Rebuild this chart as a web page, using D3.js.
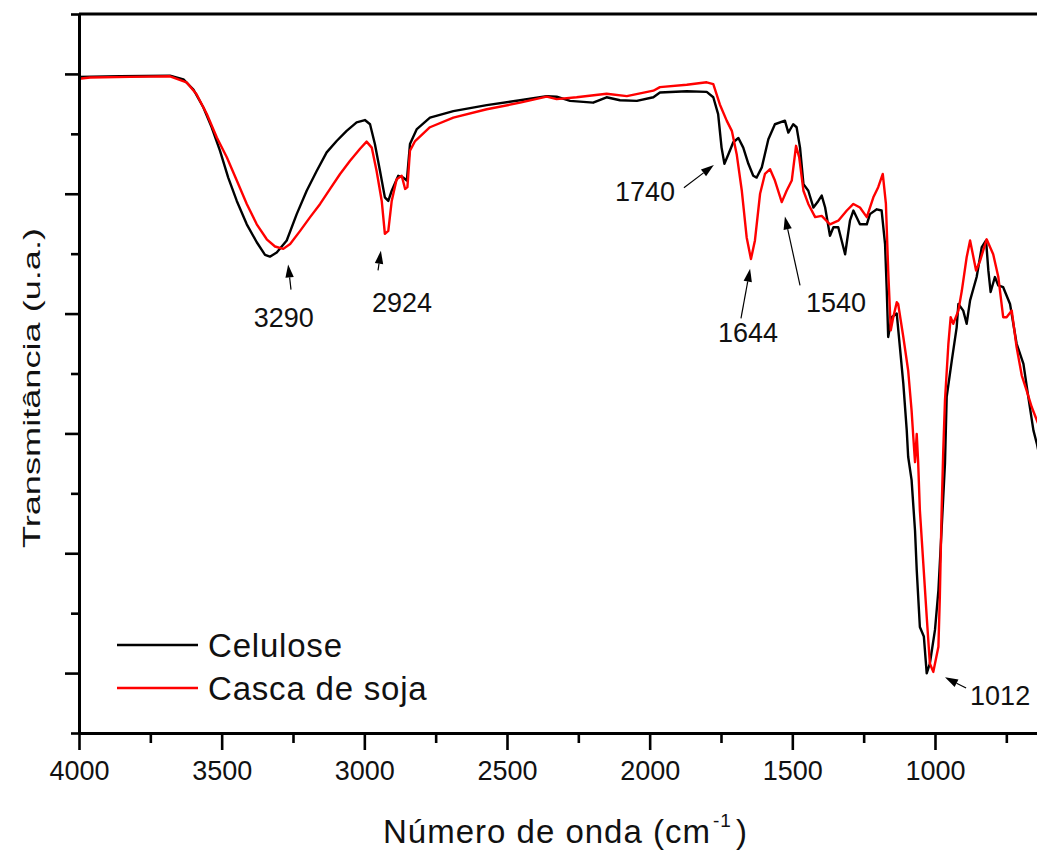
<!DOCTYPE html>
<html>
<head>
<meta charset="utf-8">
<script src="https://cdn.jsdelivr.net/npm/d3@7"></script>
<style>
  html, body { margin: 0; padding: 0; background: #fff; }
  svg { display: block; font-family: "Liberation Sans", Arial, sans-serif; }
</style>
</head>
<body>
<svg id="chart" width="1037" height="850"></svg>
<script>
// FTIR spectra: [wavenumber (cm-1), transmittance (a.u.)]
const celulose = [
  [4000,109.5],[3856,109.6],[3681,109.7],[3634,109.1],[3599,107.4],[3564,104.4],[3535,101.1],
  [3506,97.2],[3477,92.7],[3447,88.8],[3412,84.9],[3377,81.9],[3348,79.8],[3331,79.5],[3307,80.2],
  [3272,82.2],[3237,86.6],[3202,90.5],[3167,93.8],[3132,96.9],[3097,98.8],[3062,100.5],[3027,101.9],
  [2998,102.3],[2980,101.6],[2963,98.3],[2945,93.8],[2928,89.4],[2916,88.8],[2904,90.5],[2881,93.0],
  [2863,92.7],[2851,92.2],[2840,98.3],[2816,100.8],[2770,102.7],[2688,103.8],[2571,104.8],[2454,105.6],
  [2361,106.3],[2326,106.2],[2279,105.5],[2198,105.2],[2151,106.1],[2104,105.6],[2045,105.5],[1987,106.1],
  [1964,106.9],[1870,107.1],[1800,107.0],[1777,106.1],[1760,103.3],[1748,97.7],[1738,95.0],[1724,96.6],
  [1707,98.6],[1689,99.3],[1672,97.7],[1654,95.0],[1637,93.0],[1625,92.7],[1607,94.4],[1584,99.1],
  [1561,101.6],[1526,102.2],[1514,100.2],[1497,101.6],[1485,101.1],[1473,97.7],[1461,91.6],[1444,90.5],
  [1426,87.7],[1409,88.8],[1397,89.7],[1385,87.7],[1368,83.0],[1356,84.4],[1339,84.4],[1315,79.9],
  [1298,85.5],[1286,87.2],[1263,84.9],[1239,84.9],[1228,86.6],[1204,87.4],[1187,87.2],[1175,81.6],
  [1169,73.8],[1164,66.1],[1152,69.4],[1134,70.0],[1123,64.4],[1111,58.3],[1099,50.5],[1094,46.1],
  [1082,42.2],[1070,33.8],[1064,27.2],[1053,17.7],[1039,16.1],[1029,9.95],[1018,11.6],[1000,17.2],
  [988,23.8],[977,33.8],[965,45.0],[959,56.1],[941,62.2],[924,67.7],[918,71.6],[901,70.5],[889,68.3],
  [877,72.2],[854,76.1],[836,81.1],[821,82.2],[813,77.2],[805,73.6],[790,76.1],[778,74.7],[761,74.4],
  [737,71.6],[714,65.0],[690,61.6],[673,56.1],[655,50.5],[643,48.3],[632,45.8]
];

const cascaDeSoja = [
  [4000,109.2],[3961,109.4],[3821,109.5],[3681,109.6],[3623,108.6],[3588,106.6],[3552,103.3],
  [3517,99.4],[3482,96.1],[3447,92.2],[3412,88.3],[3377,84.9],[3342,82.4],[3313,81.2],[3284,80.8],
  [3260,81.6],[3225,83.8],[3190,86.1],[3155,88.3],[3120,90.8],[3085,93.3],[3050,95.5],[3015,97.5],
  [2992,98.7],[2974,97.7],[2957,93.8],[2939,88.8],[2928,83.3],[2916,83.8],[2904,88.8],[2887,92.4],
  [2869,93.0],[2857,90.8],[2849,91.1],[2840,97.2],[2822,98.8],[2770,101.1],[2688,102.7],[2571,104.1],
  [2454,105.2],[2361,106.2],[2326,105.8],[2256,106.1],[2151,106.7],[2080,106.3],[1987,107.2],
  [1964,107.8],[1870,108.2],[1800,108.6],[1777,108.3],[1754,104.9],[1730,102.2],[1712,100.5],
  [1695,96.6],[1677,90.5],[1660,82.7],[1645,79.1],[1631,82.2],[1613,90.0],[1596,93.3],[1578,94.1],
  [1561,92.2],[1537,88.6],[1520,90.5],[1502,92.2],[1487,98.0],[1476,96.1],[1461,90.5],[1444,88.3],
  [1420,86.1],[1397,86.3],[1368,84.9],[1339,85.5],[1309,87.2],[1286,88.3],[1263,87.7],[1239,86.1],
  [1216,89.4],[1199,91.1],[1183,93.3],[1172,88.3],[1164,77.2],[1155,67.2],[1147,69.2],[1134,71.9],
  [1129,71.6],[1111,66.1],[1094,60.5],[1082,53.8],[1076,49.4],[1070,45.2],[1064,49.9],[1059,45.2],
  [1053,37.2],[1041,28.3],[1029,19.4],[1018,11.6],[1006,10.2],[988,14.4],[983,22.7],[977,36.6],
  [971,47.2],[965,55.5],[953,65.0],[945,69.4],[936,68.3],[918,70.5],[906,73.8],[889,79.4],[877,82.2],
  [856,77.2],[842,78.8],[819,82.4],[796,79.9],[778,76.1],[761,69.4],[749,69.4],[731,70.5],[714,64.4],
  [696,59.7],[679,57.2],[661,54.4],[643,52.2],[632,50.8]
];

const seriesNames = ["Celulose", "Casca de soja"];
const seriesColors = ["#000000", "#ff0000"];

const xMajorTicks = [4000, 3500, 3000, 2500, 2000, 1500, 1000];
const xMinorTicks = [3750, 3250, 2750, 2250, 1750, 1250, 750];
const yMajorTicks = [10, 30, 50, 70, 90, 110];
const yMinorTicks = [0, 20, 40, 60, 80, 100, 120];

// Marked absorption bands: label, arrow tip, arrow tail, label anchor (data units)
const bandLabels = ["3290", "2924", "1740", "1644", "1540", "1012"];
const bandTips   = [[3267,78.2],[2942,80.5],[1775,94.8],[1648,77.5],[1526,86.2],[965,9.3]];
const bandTails  = [[3257,74.0],[2952,77.2],[1880,91.0],[1680,69.2],[1473,74.7],[891,7.5]];
const bandText   = [[3282,67.7],[2868,70.2],[1911,88.8],[1655,65.2],[1347,70.2],[877,4.7]];
const bandAnchor = ["middle","middle","end","middle","middle","start"];

const svg = d3.select("#chart");
const plotLeft = 79, plotTop = 14, plotBottom = 733;
const pxPerUnit = 0.28533;

const x = d3.scaleLinear().domain([4000, 500]).range([plotLeft, plotLeft + 3500 * pxPerUnit]);
const y = d3.scaleLinear().domain([0, 120]).range([plotBottom, plotTop]);

svg.append("defs").append("clipPath").attr("id", "plotClip")
  .append("rect").attr("x", plotLeft).attr("y", plotTop)
  .attr("width", 1100).attr("height", plotBottom - plotTop);

// Spectra
const line = d3.line().x(d => x(d[0])).y(d => y(d[1]));
const plot = svg.append("g").attr("clip-path", "url(#plotClip)");
[celulose, cascaDeSoja].forEach((s, i) => {
  plot.append("path").datum(s)
    .attr("d", line)
    .attr("fill", "none")
    .attr("stroke", seriesColors[i])
    .attr("stroke-width", 2.4)
    .attr("stroke-linejoin", "round");
});

// Frame top line
svg.append("line").attr("x1", plotLeft).attr("x2", 1040).attr("y1", plotTop).attr("y2", plotTop)
  .attr("stroke", "#000").attr("stroke-width", 3);

// X axis
const xAxisG = svg.append("g").attr("transform", `translate(0,${plotBottom})`);
xAxisG.call(d3.axisBottom(x).tickValues(xMajorTicks).tickSize(17).tickSizeOuter(0).tickFormat(d3.format("d")));
xAxisG.append("g").call(d3.axisBottom(x).tickValues(xMinorTicks).tickSize(10).tickSizeOuter(0).tickFormat(""))
  .select(".domain").remove();
xAxisG.selectAll(".domain").attr("stroke-width", 3);
xAxisG.selectAll(".tick line").attr("stroke-width", 2.6);
xAxisG.selectAll(".tick text")
  .attr("y", 47).attr("dy", null)
  .attr("font-size", 27).attr("fill", "#111")
  .attr("font-family", "'Liberation Sans', Arial, sans-serif");

// Y axis (no labels)
const yAxisG = svg.append("g").attr("transform", `translate(${plotLeft},0)`);
yAxisG.call(d3.axisLeft(y).tickValues(yMajorTicks).tickSize(14).tickSizeOuter(0).tickFormat(""));
yAxisG.append("g").call(d3.axisLeft(y).tickValues(yMinorTicks).tickSize(8).tickSizeOuter(0).tickFormat(""))
  .select(".domain").remove();
yAxisG.selectAll(".domain").attr("stroke-width", 3);
yAxisG.selectAll(".tick line").attr("stroke-width", 2.6);

// Axis titles
const xTitle = svg.append("text")
  .attr("x", 383).attr("y", 843)
  .attr("font-size", 33).attr("fill", "#111").attr("letter-spacing", 1.0);
xTitle.append("tspan").text("Número de onda (cm");
xTitle.append("tspan").attr("font-size", 19).attr("dy", -16).attr("dx", 2).text("-1");
xTitle.append("tspan").attr("dy", 16).attr("dx", 4).text(")");

svg.append("text")
  .attr("transform", "translate(40,388) rotate(-90)")
  .attr("text-anchor", "middle")
  .attr("font-size", 24).attr("fill", "#111")
  .attr("textLength", 320).attr("lengthAdjust", "spacingAndGlyphs")
  .text("Transmitância (u.a.)");

// Band annotations
const ann = svg.append("g");
bandLabels.forEach((lab, i) => {
  const tx = x(bandTips[i][0]), ty = y(bandTips[i][1]);
  const sx = x(bandTails[i][0]), sy = y(bandTails[i][1]);
  const ang = Math.atan2(ty - sy, tx - sx);
  const hl = 13, hw = 4.2;
  const bx = tx - hl * Math.cos(ang), by = ty - hl * Math.sin(ang);
  ann.append("line").attr("x1", sx).attr("y1", sy).attr("x2", bx).attr("y2", by)
    .attr("stroke", "#000").attr("stroke-width", 1.2);
  const nx = -Math.sin(ang), ny = Math.cos(ang);
  ann.append("path")
    .attr("d", `M${tx},${ty}L${bx + hw * nx},${by + hw * ny}L${bx - hw * nx},${by - hw * ny}Z`)
    .attr("fill", "#000");
  ann.append("text")
    .attr("x", x(bandText[i][0])).attr("y", y(bandText[i][1]))
    .attr("text-anchor", bandAnchor[i])
    .attr("font-size", 27).attr("fill", "#111")
    .text(lab);
});

// Legend
const legend = svg.append("g");
seriesNames.forEach((name, i) => {
  const ly = 645 + i * 43;
  legend.append("line").attr("x1", 117).attr("x2", 198).attr("y1", ly).attr("y2", ly)
    .attr("stroke", seriesColors[i]).attr("stroke-width", 2.6);
  legend.append("text").attr("x", 208).attr("y", ly + 12)
    .attr("font-size", 33).attr("fill", "#111").attr("letter-spacing", 0.8)
    .text(name);
});
</script>
</body>
</html>
